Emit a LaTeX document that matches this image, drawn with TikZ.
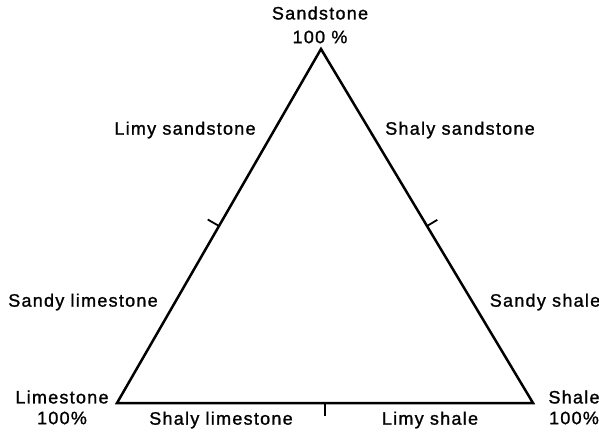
\documentclass[tikz,border=0pt]{standalone}
\usepackage{fontspec}
\setmainfont{Liberation Sans}[LetterSpace=7,FakeBold=1.2]
\usetikzlibrary{calc}
\begin{document}
\begin{tikzpicture}[x=1pt,y=-1pt,
  edge/.style={line width=2.5pt,line join=miter,line cap=round},
  tick/.style={line width=1.8pt},
  lab/.style={font=\fontsize{18}{20}\selectfont,inner sep=0pt,align=center}]
\useasboundingbox (0,0) rectangle (599,432);
\coordinate (S) at (321,49);
\coordinate (L) at (117,403);
\coordinate (H) at (533,403);
\draw[edge] (S) -- (L) -- (H) -- cycle;
\coordinate (mL) at ($(S)!0.5!(L)$);
\coordinate (mR) at ($(S)!0.5!(H)$);
\coordinate (mB) at ($(L)!0.5!(H)$);
\coordinate (tL) at ($(mL)!13pt!90:(S)$);
\coordinate (tR) at ($(mR)!12pt!-90:(S)$);
\coordinate (tB) at ($(mB)!13pt!-90:(H)$);
\draw[tick] (mL) -- (tL);
\draw[tick] (mR) -- (tR);
\draw[tick] (mB) -- (tB);
\node[lab] (ss) at (320,13) {Sandstone};
\node[lab] (ssp) at (320,37) {100 \%};
\node[lab] (ls) at (62,397) {Limestone};
\node[lab] (lsp) at (62,418) {100\%};
\node[lab] (sh) at (574,397) {Shale};
\node[lab] (shp) at (574,418) {100\%};
\node[lab] (lss) at (185,130) {Limy sandstone};
\node[lab] (sss) at (460,130) {Shaly sandstone};
\node[lab] (sls) at (83,302) {Sandy limestone};
\node[lab] (ssh) at (545,302) {Sandy shale};
\node[lab] (shl) at (221,420) {Shaly limestone};
\node[lab] (lsh) at (430,420) {Limy shale};
\end{tikzpicture}
\end{document}
